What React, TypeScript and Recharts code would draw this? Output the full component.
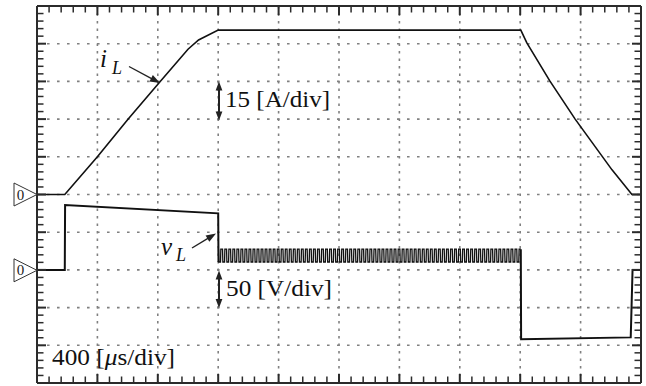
import React from "react";
import { LineChart, Line, XAxis, YAxis, CartesianGrid } from "recharts";

// scope capture: time in µs (400 µs/div), iL in A (15 A/div), vL in V (50 V/div)
const timeDivisions = [0, 400, 800, 1200, 1600, 2000, 2400, 2800, 3200, 3600, 4000];
const currentDivisions = [-75, -60, -45, -30, -15, 0, 15, 30, 45, 60, 75];
const voltageDivisions = [-150, -100, -50, 0, 50, 100, 150, 200, 250, 300, 350];

// inductor current
const iLTime = [0, 184, 400, 604, 816, 1000, 1070, 1200, 2400, 3204, 3244, 3396, 3564, 3808, 3940, 4000];
const iLAmps = [0, 0, 15, 30, 45, 57.8, 61.5, 65.4, 65.4, 65.4, 60.3, 45.2, 30, 9.8, 0, 0];

// inductor voltage, before and after the switching interval
const vLTimeOn = [0, 184, 186, 1200, 1202];
const vLVoltsOn = [0, 0, 86, 75, 10.5];
const vLTimeOff = [3204, 3206, 3932, 3944, 4000];
const vLVoltsOff = [27.5, -92, -89.5, 0, 0];

// switching ripple seen on vL between the two edges
const rippleStart = 1202;
const rippleEnd = 3204;
const ripplePulses = 75;
const rippleHigh = 27.5;
const rippleLow = 10.5;

const iLData = iLTime.map((t, k) => ({ t, i: iLAmps[k] }));
const vLOn = vLTimeOn.map((t, k) => ({ t, v: vLVoltsOn[k] }));
const vLOff = vLTimeOff.map((t, k) => ({ t, v: vLVoltsOff[k] }));

const ripple: { t: number; v: number }[] = [];
const period = (rippleEnd - rippleStart) / ripplePulses;
for (let n = 0; n < ripplePulses; n++) {
  const t0 = rippleStart + n * period;
  ripple.push({ t: t0, v: rippleHigh });
  ripple.push({ t: t0 + 0.08 * period, v: rippleLow });
  ripple.push({ t: t0 + 0.5 * period, v: rippleLow });
  ripple.push({ t: t0 + 0.58 * period, v: rippleHigh });
}
ripple.push({ t: rippleEnd, v: rippleHigh });

const fifths = (d: number[]) => {
  const out: number[] = [];
  for (let k = 0; k < d.length - 1; k++) {
    const step = (d[k + 1] - d[k]) / 5;
    for (let j = 0; j < 5; j++) out.push(d[k] + j * step);
  }
  out.push(d[d.length - 1]);
  return out;
};

const frame = "#2b2b2b";
const serif = "Times New Roman, Liberation Serif, serif";

const FrameTick = (props: any) => {
  const { x, y, payload, orientation, divisions } = props;
  const major = divisions.some((d: number) => Math.abs(d - payload.value) < 1e-6);
  const len = major ? 9 : 6.5;
  let x2 = x;
  let y2 = y;
  if (orientation === "bottom") y2 = y - len;
  if (orientation === "top") y2 = y + len;
  if (orientation === "left") x2 = x + len;
  if (orientation === "right") x2 = x - len;
  return <line x1={x} y1={y} x2={x2} y2={y2} stroke={frame} strokeWidth={major ? 2 : 1.5} />;
};

function Arrow({ x1, y1, x2, y2, head = 10, half = 3.6, w = 1.4 }: any) {
  const dx = x2 - x1;
  const dy = y2 - y1;
  const L = Math.hypot(dx, dy);
  const ux = dx / L;
  const uy = dy / L;
  const bx = x2 - ux * head;
  const by = y2 - uy * head;
  const pts = `${x2},${y2} ${bx - uy * half},${by + ux * half} ${bx + uy * half},${by - ux * half}`;
  return (
    <g>
      <line x1={x1} y1={y1} x2={bx + ux} y2={by + uy} stroke="#222" strokeWidth={w} />
      <polygon points={pts} fill="#222" />
    </g>
  );
}

function ZeroMark({ y }: { y: number }) {
  return (
    <g>
      <polygon
        points={`14,${y - 11.5} 14,${y + 11.5} 37,${y}`}
        fill="white"
        stroke="#333"
        strokeWidth={1}
      />
      <text x={20.5} y={y + 5} fontSize={15} fontFamily={serif} textAnchor="middle" fill="#222">
        0
      </text>
    </g>
  );
}

function Annotations() {
  return (
    <svg
      width={646}
      height={386}
      style={{ position: "absolute", left: 0, top: 0, pointerEvents: "none" }}
    >
      <ZeroMark y={194.5} />
      <ZeroMark y={270.3} />

      <text x={100} y={66.5} fontSize={25} fontStyle="italic" fontFamily={serif} fill="#111">
        i
      </text>
      <text x={112} y={74} fontSize={18} fontStyle="italic" fontFamily={serif} fill="#111">
        L
      </text>
      <Arrow x1={129} y1={66.5} x2={160} y2={83} />

      <text x={161} y={255} fontSize={25} fontStyle="italic" fontFamily={serif} fill="#111">
        v
      </text>
      <text x={176} y={261} fontSize={18} fontStyle="italic" fontFamily={serif} fill="#111">
        L
      </text>
      <Arrow x1={192} y1={248} x2={216} y2={233.5} />

      <Arrow x1={219} y1={101} x2={219} y2={81.5} head={9} half={3.4} w={2} />
      <Arrow x1={219} y1={101} x2={219} y2={120.5} head={9} half={3.4} w={2} />
      <text x={225} y={107} fontSize={23} fontFamily={serif} fill="#111" textLength={105} lengthAdjust="spacingAndGlyphs">
        15 [A/div]
      </text>

      <Arrow x1={219} y1={289} x2={219} y2={270.5} head={9} half={3.4} w={2} />
      <Arrow x1={219} y1={289} x2={219} y2={308} head={9} half={3.4} w={2} />
      <text x={226} y={296} fontSize={23} fontFamily={serif} fill="#111" textLength={106} lengthAdjust="spacingAndGlyphs">
        50 [V/div]
      </text>

      <text x={52} y={365} fontSize={23} fontFamily={serif} fill="#111" textLength={123} lengthAdjust="spacingAndGlyphs">
        400 [<tspan fontStyle="italic">μ</tspan>s/div]
      </text>
    </svg>
  );
}

export default function App() {
  const axisLine = { stroke: frame, strokeWidth: 2 };
  return (
    <div style={{ position: "absolute", left: 0, top: 0, width: 646, height: 386, background: "white" }}>
      <LineChart width={646} height={386} margin={{ top: 5, right: 4, bottom: 2, left: 36 }}>
        <CartesianGrid
          xAxisId="b"
          yAxisId="i"
          vertical={false}
          horizontalValues={currentDivisions}
          stroke="#808080"
          strokeWidth={1.6}
          strokeDasharray="2.6 7.4"
        />
        <CartesianGrid
          xAxisId="b"
          yAxisId="i"
          horizontal={false}
          verticalValues={timeDivisions}
          stroke="#808080"
          strokeWidth={1.6}
          strokeDasharray="2.4 5.1"
        />
        <XAxis
          xAxisId="b"
          type="number"
          dataKey="t"
          domain={[0, 4000]}
          allowDataOverflow
          ticks={fifths(timeDivisions)}
          interval={0}
          height={1}
          tickSize={0}
          tickMargin={0}
          tickLine={false}
          axisLine={axisLine}
          tick={<FrameTick divisions={timeDivisions} />}
        />
        <XAxis
          xAxisId="top"
          orientation="top"
          type="number"
          dataKey="t"
          domain={[0, 4000]}
          allowDataOverflow
          ticks={fifths(timeDivisions)}
          interval={0}
          height={1}
          tickSize={0}
          tickMargin={0}
          tickLine={false}
          axisLine={axisLine}
          tick={<FrameTick divisions={timeDivisions} />}
        />
        <YAxis
          yAxisId="i"
          type="number"
          domain={[-75, 75]}
          allowDataOverflow
          ticks={fifths(currentDivisions)}
          interval={0}
          width={1}
          tickSize={0}
          tickMargin={0}
          tickLine={false}
          axisLine={axisLine}
          tick={<FrameTick divisions={currentDivisions} />}
        />
        <YAxis
          yAxisId="v"
          orientation="right"
          type="number"
          domain={[-150, 350]}
          allowDataOverflow
          ticks={fifths(voltageDivisions)}
          interval={0}
          width={1}
          tickSize={0}
          tickMargin={0}
          tickLine={false}
          axisLine={axisLine}
          tick={<FrameTick divisions={voltageDivisions} />}
        />
        <Line
          data={iLData}
          dataKey="i"
          xAxisId="b"
          yAxisId="i"
          type="linear"
          stroke="#111"
          strokeWidth={1.6}
          dot={false}
          isAnimationActive={false}
        />
        <Line
          data={vLOn}
          dataKey="v"
          xAxisId="b"
          yAxisId="v"
          type="linear"
          stroke="#111"
          strokeWidth={2}
          dot={false}
          isAnimationActive={false}
        />
        <Line
          data={ripple}
          dataKey="v"
          xAxisId="b"
          yAxisId="v"
          type="linear"
          stroke="#111"
          strokeWidth={1.3}
          dot={false}
          isAnimationActive={false}
        />
        <Line
          data={vLOff}
          dataKey="v"
          xAxisId="b"
          yAxisId="v"
          type="linear"
          stroke="#111"
          strokeWidth={2}
          dot={false}
          isAnimationActive={false}
        />
      </LineChart>
      <Annotations />
    </div>
  );
}
